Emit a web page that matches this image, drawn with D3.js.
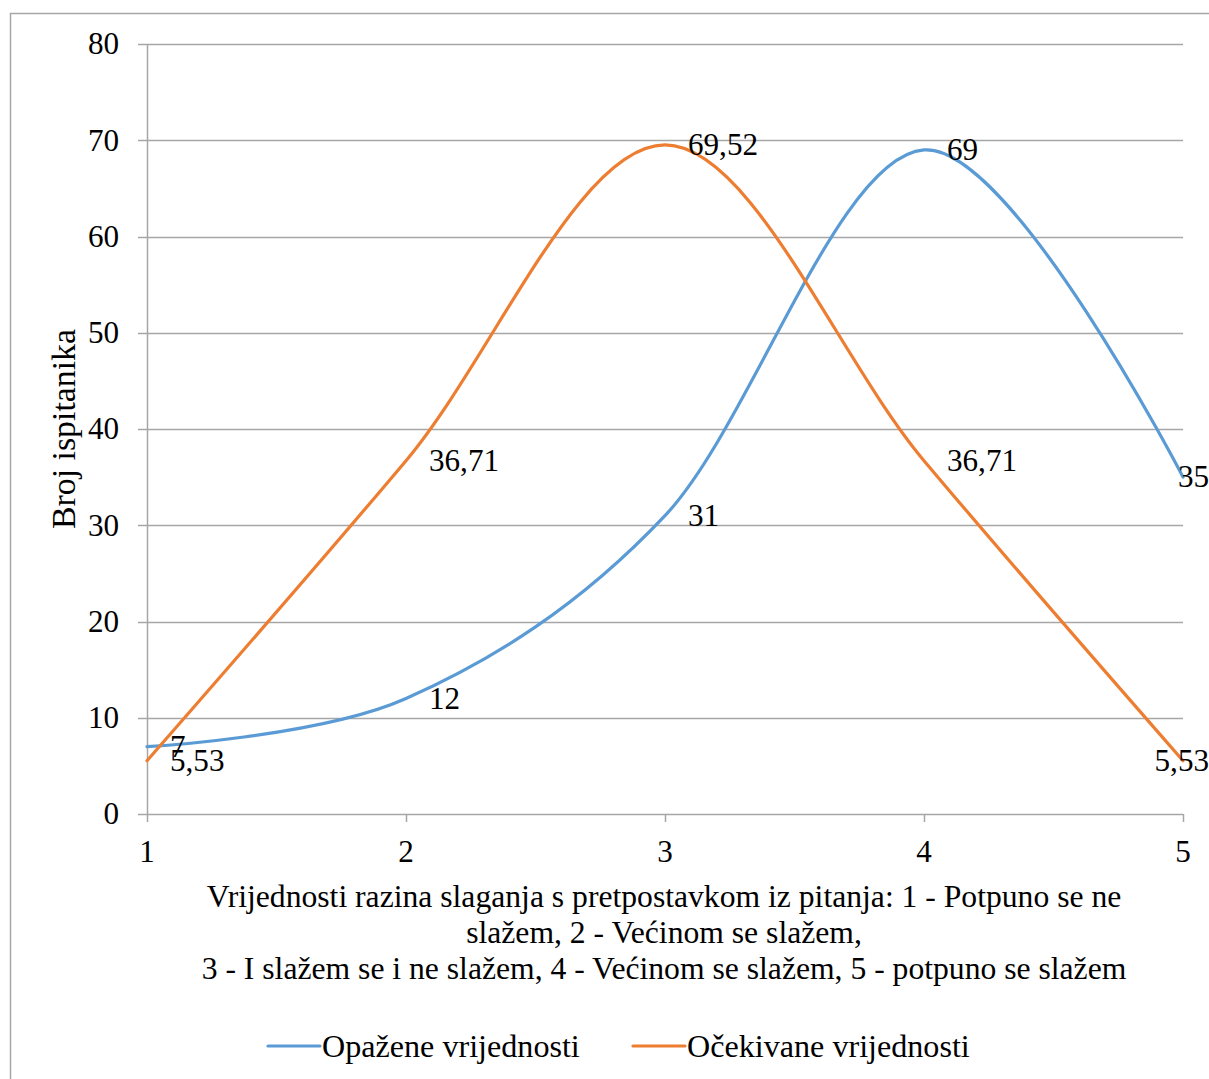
<!DOCTYPE html>
<html><head><meta charset="utf-8">
<script src="https://cdn.jsdelivr.net/npm/d3@7"></script>
<style>body{margin:0;background:#fff;}svg{display:block;} text{font-family:"Liberation Serif","Times New Roman",Times,"Nimbus Roman","DejaVu Serif",serif;fill:#000;}</style>
</head><body>
<svg id="c" width="1209" height="1079"></svg>
<script>
const categories = [1, 2, 3, 4, 5];
const observed = [7, 12, 31, 69, 35];
const expected = [5.53, 36.71, 69.52, 36.71, 5.53];
const observedLabels = ["7", "12", "31", "69", "35"];
const expectedLabels = ["5,53", "36,71", "69,52", "36,71", "5,53"];
const yTicks = [0, 10, 20, 30, 40, 50, 60, 70, 80];
const seriesNames = ["Opažene vrijednosti", "Očekivane vrijednosti"];
const seriesColors = ["#5b9bd5", "#ed7d31"];
const yTitle = "Broj ispitanika";
const xTitleLines = ["Vrijednosti razina slaganja s pretpostavkom iz pitanja: 1 - Potpuno se ne", "slažem, 2 - Većinom se slažem,", "3 - I slažem se i ne slažem, 4 - Većinom se slažem, 5 - potpuno se slažem"];

const W = 1209, H = 1079;
const svg = d3.select("#c");

// size fonts so that reference widths are matched
function fitSize(str, target) {
  const t = svg.append("text").attr("font-size", 100).text(str);
  const w = t.node().getComputedTextLength();
  t.remove();
  return 100 * target / w;
}
const fsNum = fitSize("36,71", 70);
const fsTitle = fitSize(xTitleLines[0], 915);
const fsYTitle = fitSize(yTitle, 200);
const fsLeg = fitSize(seriesNames[0], 258);

// frame
svg.append("rect").attr("x", 10.5).attr("y", 13.5).attr("width", W + 20).attr("height", H + 20)
  .attr("fill", "none").attr("stroke", "#a6a6a6").attr("stroke-width", 1.5);

const x = d3.scaleLinear().domain([1, 5]).range([147, 1183]);
const y = d3.scaleLinear().domain([0, 80]).range([814, 44]);

// gridlines
svg.append("g").selectAll("line").data(yTicks).join("line")
  .attr("x1", 138).attr("x2", 1183).attr("y1", d => Math.round(y(d)) + 0.5).attr("y2", d => Math.round(y(d)) + 0.5)
  .attr("stroke", "#a6a6a6").attr("stroke-width", 1.5);

// y axis line
svg.append("line").attr("x1", 147.5).attr("x2", 147.5).attr("y1", y(80)).attr("y2", y(0) + 8)
  .attr("stroke", "#a6a6a6").attr("stroke-width", 1.5);
// x ticks
svg.append("g").selectAll("line").data(categories.slice(1)).join("line")
  .attr("x1", d => Math.round(x(d)) + 0.5).attr("x2", d => Math.round(x(d)) + 0.5)
  .attr("y1", y(0)).attr("y2", y(0) + 8).attr("stroke", "#a6a6a6").attr("stroke-width", 1.5);

// y tick labels
svg.append("g").selectAll("text").data(yTicks).join("text")
  .attr("x", 119).attr("y", d => y(d)).attr("dy", "0.33em").attr("text-anchor", "end")
  .attr("font-size", fsNum).text(d => d);
// x tick labels
svg.append("g").selectAll("text").data(categories).join("text")
  .attr("x", d => x(d)).attr("y", 852).attr("dy", "0.33em").attr("text-anchor", "middle")
  .attr("font-size", fsNum).text(d => d);

// titles
svg.append("text").attr("transform", "translate(64,429) rotate(-90)").attr("text-anchor", "middle")
  .attr("dy", "0.33em").attr("font-size", fsYTitle).text(yTitle);
svg.append("g").selectAll("text").data(xTitleLines).join("text")
  .attr("x", 664).attr("y", (d, i) => 897 + i * 36).attr("dy", "0.33em").attr("text-anchor", "middle")
  .attr("font-size", fsTitle).text(d => d);

// lines
const line = d3.line().x((d, i) => x(categories[i])).y(d => y(d)).curve(d3.curveCardinal.tension(0));
[observed, expected].forEach((s, k) => {
  svg.append("path").datum(s).attr("d", line).attr("fill", "none")
    .attr("stroke", seriesColors[k]).attr("stroke-width", 3.2).attr("stroke-linecap", "round");
});

// data labels
function labels(vals, labs) {
  const g = svg.append("g");
  vals.forEach((v, i) => {
    const t = g.append("text").attr("y", y(v)).attr("dy", "0.33em")
      .attr("font-size", fsNum).text(labs[i]);
    const w = t.node().getComputedTextLength();
    let lx = x(categories[i]) + 23;
    if (lx + w > W) lx = W - w;
    t.attr("x", lx);
  });
}
labels(observed, observedLabels);
labels(expected, expectedLabels);

// legend
const legItems = [{x: 268}, {x: 633}];
legItems.forEach((it, k) => {
  svg.append("line").attr("x1", it.x).attr("x2", it.x + 52).attr("y1", 1046).attr("y2", 1046)
    .attr("stroke", seriesColors[k]).attr("stroke-width", 3.2).attr("stroke-linecap", "round");
  svg.append("text").attr("x", it.x + 54).attr("y", 1046).attr("dy", "0.33em")
    .attr("font-size", fsLeg).text(seriesNames[k]);
});
</script>
</body></html>
